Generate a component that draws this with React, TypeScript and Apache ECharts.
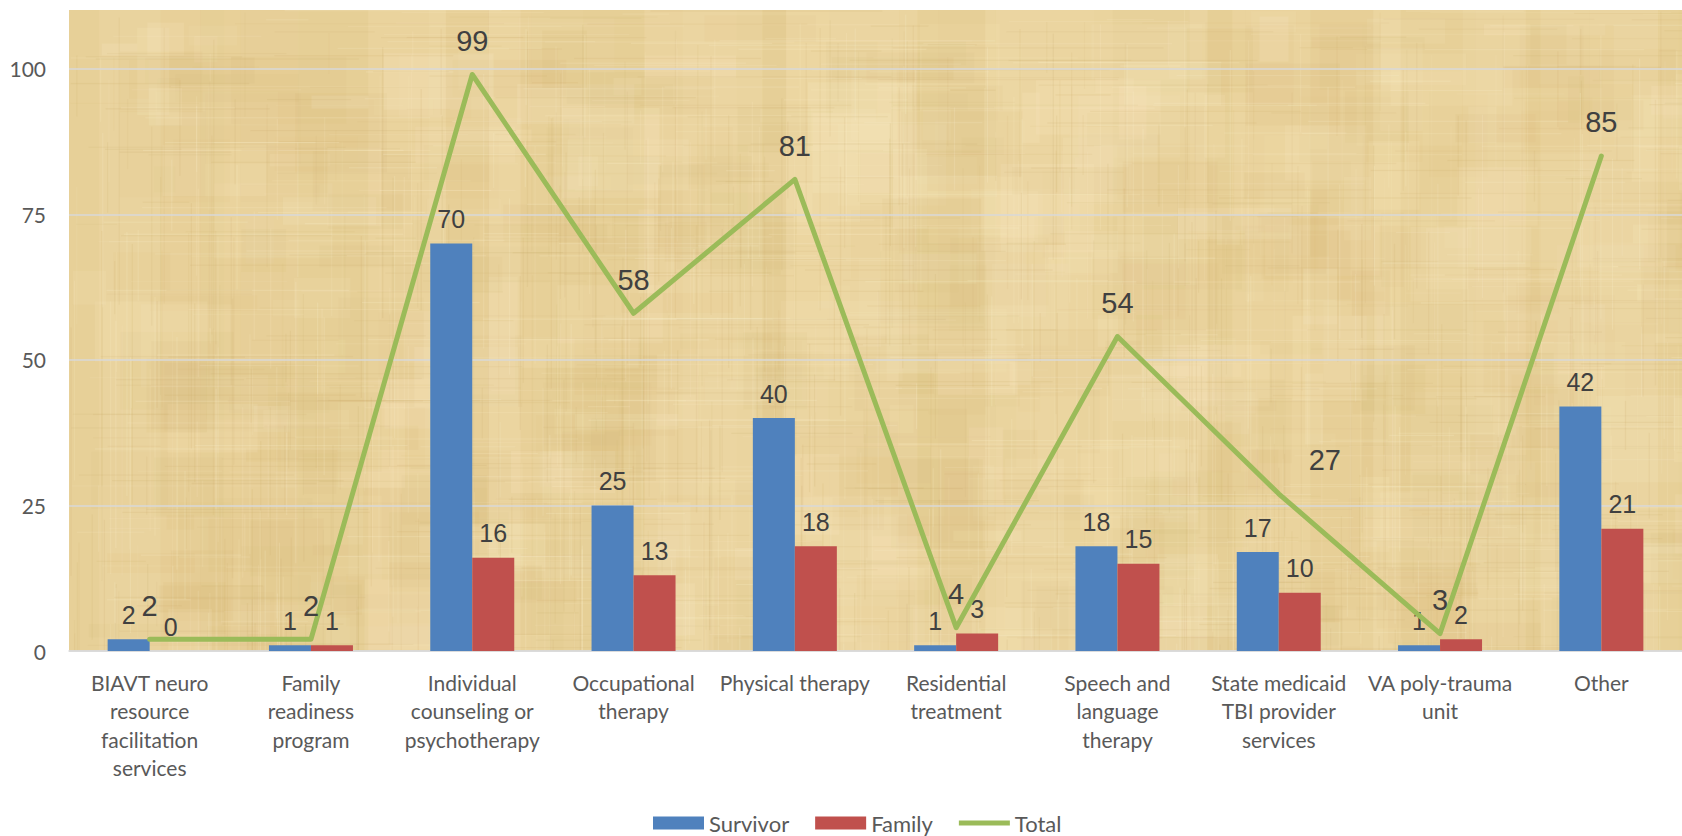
import React, { useEffect, useRef } from "react";
import * as echarts from "echarts";

const categories = [
  "BIAVT neuro resource facilitation services",
  "Family readiness program",
  "Individual counseling or psychotherapy",
  "Occupational therapy",
  "Physical therapy",
  "Residential treatment",
  "Speech and language therapy",
  "State medicaid TBI provider services",
  "VA poly-trauma unit",
  "Other",
];
const categoryLabels = [
  "BIAVT neuro\nresource\nfacilitation\nservices",
  "Family\nreadiness\nprogram",
  "Individual\ncounseling or\npsychotherapy",
  "Occupational\ntherapy",
  "Physical therapy",
  "Residential\ntreatment",
  "Speech and\nlanguage\ntherapy",
  "State medicaid\nTBI provider\nservices",
  "VA poly-trauma\nunit",
  "Other",
];
const survivor = [2, 1, 70, 25, 40, 1, 18, 17, 1, 42];
const family = [0, 1, 16, 13, 18, 3, 15, 10, 2, 21];
const total = [2, 2, 99, 58, 81, 4, 54, 27, 3, 85];
const yTicks = [0, 25, 50, 75, 100];

function makeTexture(w: number, h: number): string {
  const c = document.createElement("canvas");
  c.width = w;
  c.height = h;
  const ctx = c.getContext("2d");
  if (!ctx) return "";
  let seed = 98765;
  const rnd = () => {
    seed = (seed * 1103515245 + 12345) & 0x7fffffff;
    return seed / 0x7fffffff;
  };
  ctx.fillStyle = "#E9D29B";
  ctx.fillRect(0, 0, w, h);
  // blocky patches
  for (let i = 0; i < 500; i++) {
    const bx = rnd() * w;
    const by = rnd() * h;
    const bw = 15 + rnd() * 110;
    const bh = 10 + rnd() * 80;
    ctx.fillStyle =
      rnd() > 0.5
        ? `rgba(214,184,118,${0.05 + rnd() * 0.1})`
        : `rgba(248,232,192,${0.08 + rnd() * 0.16})`;
    ctx.fillRect(bx, by, bw, bh);
  }
  // broad vertical bands
  let x = 0;
  while (x < w) {
    const bw = 10 + rnd() * 60;
    ctx.fillStyle =
      rnd() > 0.5
        ? `rgba(248,232,192,${0.05 + rnd() * 0.15})`
        : `rgba(214,184,118,${0.04 + rnd() * 0.08})`;
    ctx.fillRect(x, 0, bw, h);
    x += bw;
  }
  // fine fibres
  for (let i = 0; i < 800; i++) {
    const vx = rnd() * w;
    const vy = rnd() * h;
    const len = 40 + rnd() * 250;
    ctx.fillStyle =
      rnd() > 0.5
        ? `rgba(200,168,100,${0.06 + rnd() * 0.1})`
        : `rgba(252,240,205,${0.08 + rnd() * 0.14})`;
    ctx.fillRect(vx, vy, 1.2, len);
  }
  for (let i = 0; i < 800; i++) {
    const vx = rnd() * w;
    const vy = rnd() * h;
    const len = 40 + rnd() * 250;
    ctx.fillStyle =
      rnd() > 0.5
        ? `rgba(200,168,100,${0.06 + rnd() * 0.1})`
        : `rgba(252,240,205,${0.08 + rnd() * 0.14})`;
    ctx.fillRect(vx, vy, len, 1.2);
  }
  return c.toDataURL("image/png");
}

export default function App() {
  const ref = useRef<HTMLDivElement>(null);
  useEffect(() => {
    if (!ref.current) return;
    const chart = echarts.init(ref.current, undefined, { renderer: "svg" });
    const tex = makeTexture(1613, 641);
    const labelFont = "Liberation Sans, Arial, sans-serif";
    const lineIcon =
      "path://M0,0 L0.01,0 L0.01,0.01 Z M0,4 L51,4 L51,9 L0,9 Z M0,13 L0.01,13 L0.01,12.99 Z";
    chart.setOption({
      animation: false,
      backgroundColor: "#ffffff",
      graphic: [
        {
          type: "image",
          x: 69,
          y: 10,
          z: -10,
          silent: true,
          style: { image: tex, width: 1613, height: 641 },
        },
      ],
      grid: { left: 69, right: -9, top: 68.7, bottom: 185, containLabel: false },
      legend: {
        left: 653,
        top: 812,
        padding: 0,
        itemWidth: 51,
        itemHeight: 13,
        itemGap: 26,
        textStyle: { fontFamily: "Lato", fontSize: 22, color: "#595959" },
        data: [
          { name: "Survivor", icon: "rect" },
          { name: "Family", icon: "rect" },
          { name: "Total", icon: lineIcon },
        ],
      },
      xAxis: {
        type: "category",
        data: categories,
        axisLine: { show: true, lineStyle: { color: "#D9D9D9", width: 1.5 } },
        axisTick: { show: false },
        axisLabel: {
          interval: 0,
          margin: 17,
          fontFamily: "Lato",
          fontSize: 21,
          lineHeight: 28.5,
          color: "#595959",
          formatter: (_v: string, i: number) => categoryLabels[i],
        },
      },
      yAxis: {
        type: "value",
        min: yTicks[0],
        max: yTicks[yTicks.length - 1],
        interval: 25,
        axisLine: { show: false },
        axisTick: { show: false },
        splitLine: { lineStyle: { color: "#D9D9D9", width: 1.5 } },
        axisLabel: { margin: 23, fontFamily: "Lato", fontSize: 21, color: "#595959" },
      },
      series: [
        {
          name: "Survivor",
          type: "bar",
          data: survivor,
          barWidth: 42,
          barGap: "0%",
          itemStyle: { color: "#4F81BD" },
          label: {
            show: true,
            position: "top",
            distance: 12,
            fontFamily: labelFont,
            fontSize: 25,
            color: "#404040",
          },
        },
        {
          name: "Family",
          type: "bar",
          data: family,
          barWidth: 42,
          barGap: "0%",
          itemStyle: { color: "#C0504D" },
          label: {
            show: true,
            position: "top",
            distance: 12,
            fontFamily: labelFont,
            fontSize: 25,
            color: "#404040",
          },
        },
        {
          name: "Total",
          type: "line",
          data: total.map((v, i) =>
            i === 7 ? { value: v, label: { offset: [46, 0] } } : v
          ),
          symbol: "circle",
          symbolSize: 0.1,
          showSymbol: true,
          z: 5,
          itemStyle: { color: "#9BBB59" },
          lineStyle: { color: "#9BBB59", width: 5, cap: "round", join: "round" },
          label: {
            show: true,
            position: "top",
            distance: 19,
            fontFamily: labelFont,
            fontSize: 29,
            color: "#404040",
          },
        },
      ],
    });
    return () => chart.dispose();
  }, []);
  return (
    <div
      ref={ref}
      style={{ position: "absolute", left: 0, top: 0, width: 1682, height: 836 }}
    />
  );
}
